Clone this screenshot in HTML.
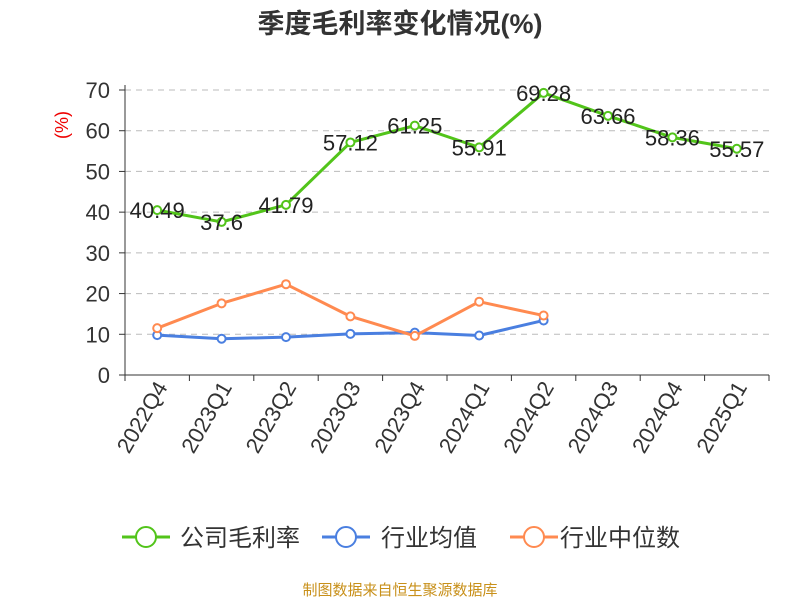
<!DOCTYPE html>
<html><head><meta charset="utf-8">
<style>
body{margin:0;background:#fff;font-family:"Liberation Sans","Noto Sans CJK SC",sans-serif;}
svg{display:block}
</style></head>
<body>
<svg id="chart" width="800" height="600" xmlns="http://www.w3.org/2000/svg" font-family="Liberation Sans, Noto Sans CJK SC, sans-serif">
<text x="400" y="33" text-anchor="middle" font-size="27" font-weight="bold" fill="#333">季度毛利率变化情况(%)</text>
<text transform="translate(68,125) rotate(-90)" text-anchor="middle" font-size="18" fill="#e00">(%)</text>
<g id="grid"></g><g id="axes"></g><g id="series"></g>
<g>
<g><line x1="122" y1="537" x2="170" y2="537" stroke="#52c41a" stroke-width="3"/><circle cx="146" cy="537" r="10" fill="#fff" stroke="#52c41a" stroke-width="2"/><text x="180" y="546" font-size="24" fill="#333">公司毛利率</text></g>
<g><line x1="322" y1="537" x2="370" y2="537" stroke="#4a7fe0" stroke-width="3"/><circle cx="346" cy="537" r="10" fill="#fff" stroke="#4a7fe0" stroke-width="2"/><text x="381" y="546" font-size="24" fill="#333">行业均值</text></g>
<g><line x1="510" y1="537" x2="558" y2="537" stroke="#ff8a50" stroke-width="3"/><circle cx="534" cy="537" r="10" fill="#fff" stroke="#ff8a50" stroke-width="2"/><text x="560" y="546" font-size="24" fill="#333">行业中位数</text></g>
</g>
<text x="400" y="595" text-anchor="middle" font-size="15" fill="#c8901a">制图数据来自恒生聚源数据库</text>
</svg>
<script>
const categories=["2022Q4","2023Q1","2023Q2","2023Q3","2023Q4","2024Q1","2024Q2","2024Q3","2024Q4","2025Q1"];
const companyValues=[40.49,37.6,41.79,57.12,61.25,55.91,69.28,63.66,58.36,55.57];
const avgValues=[9.8,8.9,9.3,10.1,10.4,9.7,13.4];
const medianValues=[11.5,17.6,22.3,14.4,9.6,18.0,14.6];
const yTicks=[0,10,20,30,40,50,60,70];
const NS="http://www.w3.org/2000/svg";
const x0=125,x1=769,y0=375,yTop=90,yMax=70;
const band=(x1-x0)/categories.length;
const xs=i=>x0+band*(i+0.5);
const ys=v=>y0-(v/yMax)*(y0-yTop);
function mk(tag,attrs,parent){const e=document.createElementNS(NS,tag);for(const k in attrs)e.setAttribute(k,attrs[k]);parent.appendChild(e);return e;}
const grid=document.getElementById('grid'),axes=document.getElementById('axes'),series=document.getElementById('series');
yTicks.forEach(t=>{
  if(t>0){const l=mk('line',{x1:x0,x2:x1,y1:ys(t),y2:ys(t),stroke:'#bbb','stroke-dasharray':'6,5'},grid);
  
  }
  const tk=mk('line',{x1:x0-6,x2:x0,y1:ys(t),y2:ys(t),stroke:'#333'},axes);
  
  
  const tx=mk('text',{x:x0-15,y:ys(t)+8,'text-anchor':'end','font-size':22,fill:'#333'},axes);
  tx.textContent=t;
  
  
});
const ya=mk('line',{x1:x0,x2:x0,y1:yTop-5,y2:y0,stroke:'#333'},axes);


const xa=mk('line',{x1:x0,x2:x1,y1:y0,y2:y0,stroke:'#333'},axes);


for(let i=0;i<=categories.length;i++){
  const t=mk('line',{x1:x0+band*i,x2:x0+band*i,y1:y0,y2:y0+6,stroke:'#333'},axes);
  
  
}
categories.forEach((c,i)=>{
  const tx=mk('text',{x:0,y:0,'text-anchor':'end','font-size':22,fill:'#333',transform:`translate(${xs(i)+11},${y0+12}) rotate(-60)`},axes);
  tx.textContent=c;
  
  
});
function drawLine(vals,color,name,labels){
  const pts=vals.map((v,i)=>xs(i)+','+ys(v)).join(' ');
  const pl=mk('polyline',{points:pts,fill:'none',stroke:color,'stroke-width':3,'stroke-linejoin':'round'},series);
  
  
  vals.forEach((v,i)=>{
    const c=mk('circle',{cx:xs(i),cy:ys(v),r:4,fill:'#fff',stroke:color,'stroke-width':2},series);
    
    
    if(labels){
      const t=mk('text',{x:xs(i),y:ys(v)+8,'text-anchor':'middle','font-size':22,fill:'#222'},series);
      t.textContent=String(v);
      
      
    }
  });
}
drawLine(avgValues,'#4a7fe0','industry-avg',false);
drawLine(medianValues,'#ff8a50','industry-median',false);
drawLine(companyValues,'#52c41a','company',true);
</script>
</body></html>
